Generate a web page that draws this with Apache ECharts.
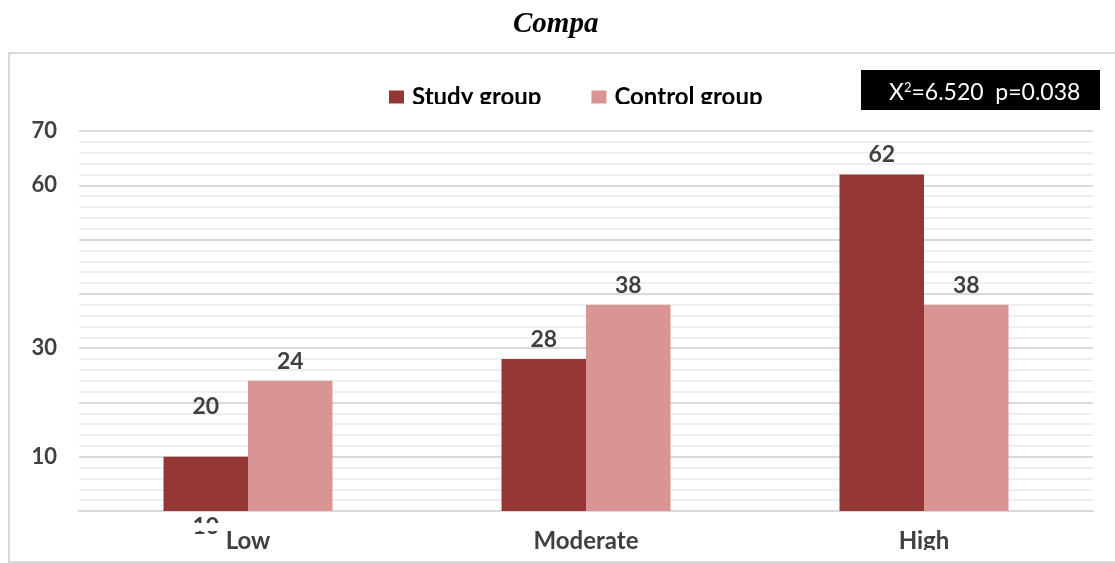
<!DOCTYPE html>
<html><head><meta charset="utf-8">
<script src="https://cdn.jsdelivr.net/npm/echarts@6/dist/echarts.min.js"></script>
<style>html,body{margin:0;padding:0;background:#fff}#c{width:1115px;height:563px}</style>
</head><body><div id="c"></div>
<script>
const categories = ['Low', 'Moderate', 'High'];
const studyGroup = [10, 28, 62];
const controlGroup = [24, 38, 38];
const shownTicks = [10, 30, 60, 70];
const strayLabel = {cat: 'Low', value: 19.3, text: '20'};
const seriesNames = ['Study group', 'Control group'];
const titleText = 'Compa';
const statText = 'X{sup|2}=6.520  p=0.038';

const FONT = 'Lato';
const chart = echarts.init(document.getElementById('c'));
chart.setOption({
  animation: false,
  backgroundColor: '#fff',
  title: {text: titleText, left: 508, top: 5,
    textStyle: {fontFamily: 'Liberation Serif', fontStyle: 'italic', fontWeight: 'bold', fontSize: 29, color: '#000'}},
  legend: {left: 384, top: 80, itemWidth: 15, itemHeight: 13, itemGap: 50,
    icon: 'rect',
    textStyle: {fontFamily: FONT, fontWeight: 'bold', fontSize: 24, color: '#000', padding: [0,0,0,3]},
    data: seriesNames},
  grid: {left: 79, right: 22, top: 131, bottom: 52},
  xAxis: {type: 'category', data: categories,
    axisLine: {lineStyle: {color: '#d9d9d9', width: 2}}, axisTick: {show: false},
    axisLabel: {margin: 18, fontFamily: FONT, fontWeight: 'bold', fontSize: 24, color: '#404040'}},
  yAxis: {type: 'value', min: 0, max: 70, interval: 10,
    axisLine: {show: false}, axisTick: {show: false},
    splitLine: {lineStyle: {color: '#d9d9d9', width: 2}},
    minorTick: {show: false, splitNumber: 5},
    minorSplitLine: {show: true, lineStyle: {color: '#efefef', width: 2}},
    axisLabel: {margin: 22, fontFamily: FONT, fontWeight: 'bold', fontSize: 22, color: '#404040',
      formatter: v => shownTicks.includes(v) ? String(v) : ''}},
  series: [
    {name: seriesNames[0], type: 'bar', data: studyGroup.map((v, i) => i === 0 ?
        {value: v, label: {position: 'bottom', distance: 4}} : v),
     barWidth: '25%', barGap: '0%', itemStyle: {color: '#943634'},
     label: {show: true, position: 'top', distance: 8, fontFamily: FONT, fontWeight: 'bold', fontSize: 23, color: '#404040'},
     markPoint: {symbol: 'rect', symbolSize: 1, itemStyle: {color: 'rgba(0,0,0,0)'},
       data: [{coord: [strayLabel.cat, strayLabel.value], value: strayLabel.text}],
       label: {show: true, position: 'inside', formatter: strayLabel.text, fontFamily: FONT, fontWeight: 'bold', fontSize: 23, color: '#404040'}}},
    {name: seriesNames[1], type: 'bar', data: controlGroup,
     barWidth: '25%', barGap: '0%', itemStyle: {color: '#d99594'},
     label: {show: true, position: 'top', distance: 8, fontFamily: FONT, fontWeight: 'bold', fontSize: 23, color: '#404040'}}
  ],
  graphic: [
    {type: 'rect', z: -10, shape: {x: 9, y: 53, width: 1120, height: 509}, style: {fill: 'none', stroke: '#d9d9d9', lineWidth: 2}},
    {type: 'rect', z: 100, shape: {x: 861, y: 70, width: 239, height: 40}, style: {fill: '#000'}},
    {type: 'text', z: 101, left: 889, top: 81,
      style: {text: statText, fill: '#fff', font: '23px Lato',
        rich: {sup: {fontSize: 13, fill: '#fff', verticalAlign: 'top', padding: [0,0,10,0], fontFamily: FONT}}}},
    {type: 'rect', z: 102, shape: {x: 861, y: 110, width: 250, height: 12}, style: {fill: '#fff'}},
    {type: 'rect', z: 102, shape: {x: 380, y: 104, width: 420, height: 12}, style: {fill: '#fff'}},
    {type: 'rect', z: 102, shape: {x: 180, y: 523, width: 60, height: 8}, style: {fill: '#fff'}},
    {type: 'rect', z: 102, shape: {x: 12, y: 550, width: 1103, height: 10}, style: {fill: '#fff'}}
  ]
});
</script></body></html>
